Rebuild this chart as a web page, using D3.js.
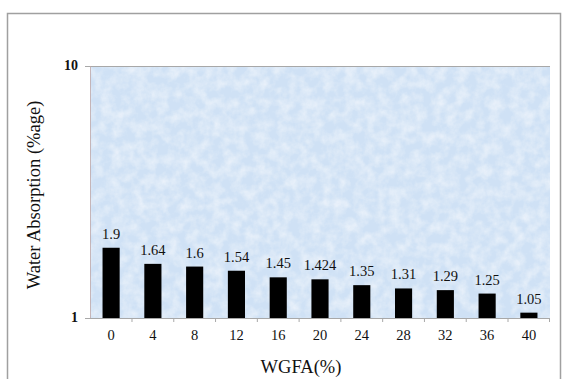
<!DOCTYPE html>
<html>
<head>
<meta charset="utf-8">
<script src="https://cdn.jsdelivr.net/npm/d3@7"></script>
<style>
  html, body { margin: 0; padding: 0; background: #fff; }
  svg { display: block; font-family: "Liberation Serif", "Times New Roman", serif; }
</style>
</head>
<body>
<div id="chart"></div>
<script>
// chart data
const categories = ["0", "4", "8", "12", "16", "20", "24", "28", "32", "36", "40"];
const absorption = [1.9, 1.64, 1.6, 1.54, 1.45, 1.424, 1.35, 1.31, 1.29, 1.25, 1.05];
const valueLabels = ["1.9", "1.64", "1.6", "1.54", "1.45", "1.424", "1.35", "1.31", "1.29", "1.25", "1.05"];
const yTicks = [1, 10];

const width = 563, height = 379;
const margin = {top: 66, right: 13, bottom: 61, left: 90};
const plotW = width - margin.left - margin.right;
const plotH = height - margin.top - margin.bottom;

const svg = d3.select("#chart").append("svg")
  .attr("width", width)
  .attr("height", height);

// paper-like texture for the plot background
const defs = svg.append("defs");
const filter = defs.append("filter").attr("id", "tex")
  .attr("x", 0).attr("y", 0).attr("width", "100%").attr("height", "100%");
filter.append("feTurbulence")
  .attr("type", "fractalNoise")
  .attr("baseFrequency", 0.09)
  .attr("numOctaves", 4)
  .attr("seed", 7)
  .attr("result", "noise");
filter.append("feColorMatrix")
  .attr("in", "noise")
  .attr("type", "matrix")
  .attr("values", "0 0 0 0 1  0 0 0 0 1  0 0 0 0 1  0 0 0 -0.9 0.6")
  .attr("result", "spots");
filter.append("feComposite").attr("in", "spots").attr("in2", "SourceGraphic").attr("operator", "in").attr("result", "s2");
filter.append("feMerge").call(m => {
  m.append("feMergeNode").attr("in", "SourceGraphic");
  m.append("feMergeNode").attr("in", "s2");
});

// outer chart border
svg.append("path")
  .attr("d", `M7.5,${height} V13.5 H560.5 V${height}`)
  .attr("fill", "none")
  .attr("stroke", "#a0a0a0")
  .attr("stroke-width", 1.5);

const g = svg.append("g").attr("transform", `translate(${margin.left},${margin.top})`);

g.append("rect")
  .attr("width", plotW)
  .attr("height", plotH)
  .attr("fill", "#cfe1f5")
  .attr("filter", "url(#tex)");

const x = d3.scaleBand()
  .domain(categories)
  .range([0, plotW])
  .paddingInner(0.59)
  .paddingOuter(0.3);

const y = d3.scaleLog()
  .domain([1, 10])
  .range([plotH, 0]);

// top border line at 10
g.append("line")
  .attr("x1", -5).attr("x2", plotW)
  .attr("y1", y(10) + 0.5).attr("y2", y(10) + 0.5)
  .attr("stroke", "#a8a8a8").attr("stroke-width", 1.2);

// left axis line
g.append("line")
  .attr("x1", 0.5).attr("x2", 0.5)
  .attr("y1", 0).attr("y2", plotH)
  .attr("stroke", "#c0a8a8").attr("stroke-width", 0.8);

// bars
g.selectAll("rect.bar")
  .data(absorption)
  .join("rect")
  .attr("class", "bar")
  .attr("x", (d, i) => x(categories[i]))
  .attr("y", d => y(d))
  .attr("width", x.bandwidth())
  .attr("height", d => y(1) - y(d))
  .attr("fill", "#000");

// value labels
g.selectAll("text.val")
  .data(absorption)
  .join("text")
  .attr("class", "val")
  .attr("x", (d, i) => x(categories[i]) + x.bandwidth() / 2)
  .attr("y", d => y(d) - 9)
  .attr("text-anchor", "middle")
  .attr("font-size", 14.5)
  .attr("fill", "#111")
  .text((d, i) => valueLabels[i]);

// x axis
const xAxis = g.append("g").attr("transform", `translate(0,${plotH})`);
xAxis.append("line")
  .attr("x1", -5).attr("x2", plotW)
  .attr("y1", 0.5).attr("y2", 0.5)
  .attr("stroke", "#a8a8a8").attr("stroke-width", 1.2);
const step = x.step();
xAxis.selectAll("line.tk")
  .data(categories.slice(1))
  .join("line")
  .attr("class", "tk")
  .attr("x1", d => x(d) - (step - x.bandwidth()) / 2)
  .attr("x2", d => x(d) - (step - x.bandwidth()) / 2)
  .attr("y1", 0).attr("y2", 4)
  .attr("stroke", "#a8a8a8");
xAxis.append("line")
  .attr("x1", plotW - 0.5).attr("x2", plotW - 0.5)
  .attr("y1", 0).attr("y2", 4)
  .attr("stroke", "#a8a8a8");
xAxis.selectAll("text")
  .data(categories)
  .join("text")
  .attr("x", d => x(d) + x.bandwidth() / 2)
  .attr("y", 22)
  .attr("text-anchor", "middle")
  .attr("font-size", 14.5)
  .attr("fill", "#111")
  .text(d => d);

// y ticks
g.selectAll("text.ytk")
  .data(yTicks)
  .join("text")
  .attr("class", "ytk")
  .attr("x", -12)
  .attr("y", d => y(d) + 4)
  .attr("text-anchor", "end")
  .attr("font-size", 14)
  .attr("font-weight", "bold")
  .attr("fill", "#111")
  .text(d => d);

// titles
svg.append("text")
  .attr("x", 301)
  .attr("y", 373)
  .attr("text-anchor", "middle")
  .attr("font-size", 18.5)
  .attr("fill", "#111")
  .text("WGFA(%)");

svg.append("text")
  .attr("transform", `translate(40,${margin.top + plotH / 2 + 3}) rotate(-90)`)
  .attr("text-anchor", "middle")
  .attr("font-size", 18.5)
  .attr("fill", "#111")
  .text("Water Absorption (%age)");
</script>
</body>
</html>
